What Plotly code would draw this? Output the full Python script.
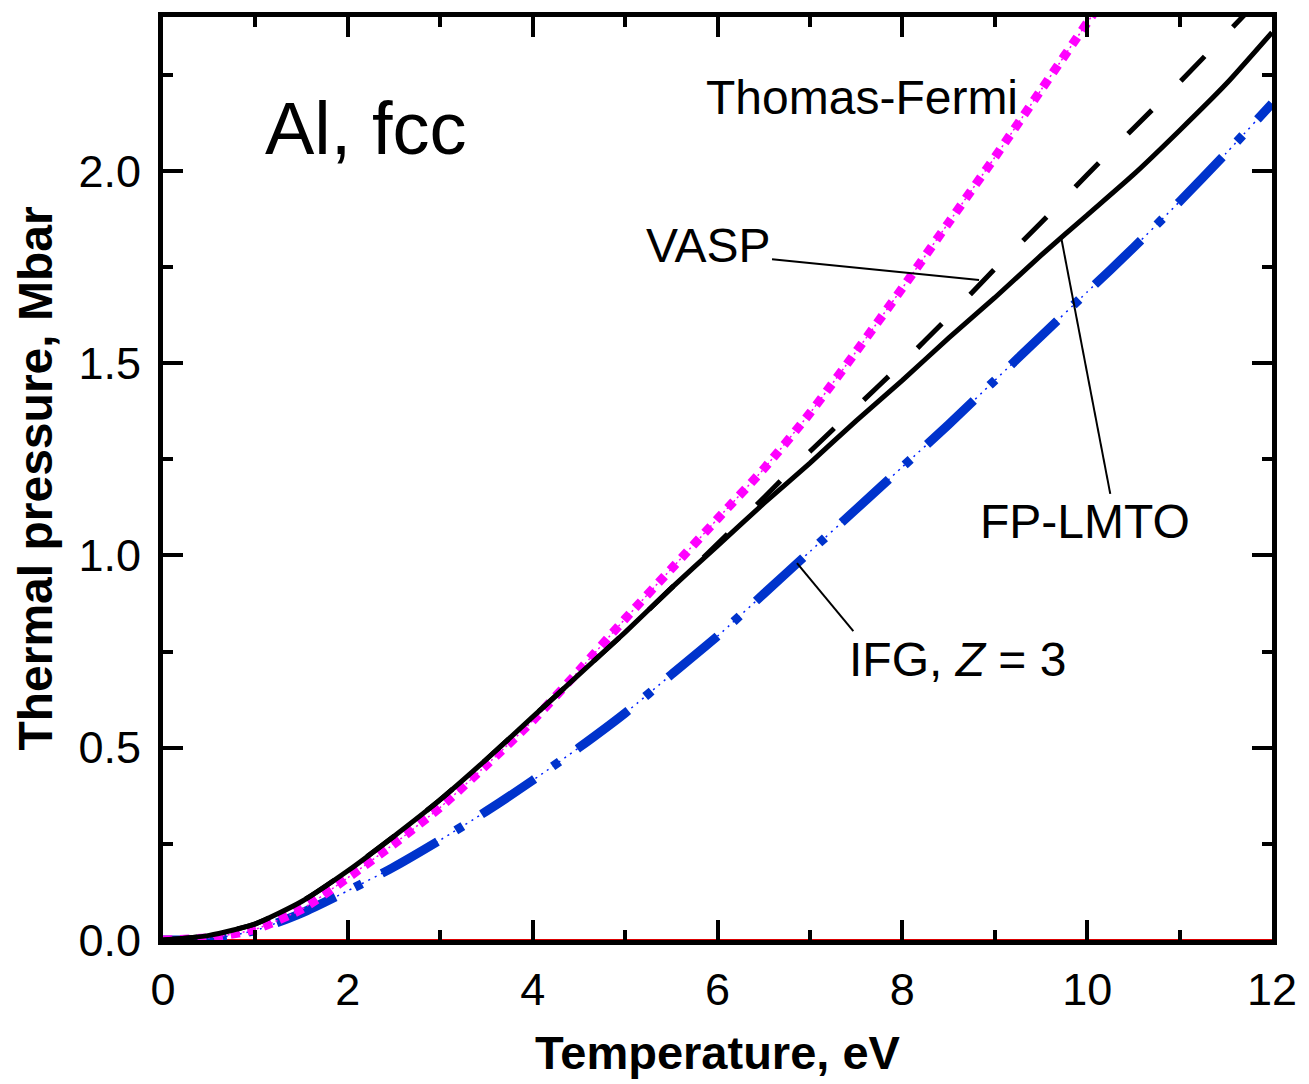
import plotly.graph_objects as go

# Temperature grid (eV)
T = [0, 0.5, 1, 1.5, 2, 2.5, 3, 3.5, 4, 4.5, 5, 5.5, 6, 6.5, 7, 7.5, 8, 8.5, 9, 9.5, 10, 10.5, 11, 11.5, 12]

# Thermal pressure (Mbar)
fp_lmto = [0, 0.012, 0.042, 0.10, 0.18, 0.27, 0.365, 0.47, 0.58, 0.69, 0.80, 0.915, 1.025, 1.135, 1.24, 1.35,
           1.455, 1.565, 1.67, 1.78, 1.885, 1.99, 2.105, 2.225, 2.36]
vasp = [0, 0.012, 0.042, 0.10, 0.18, 0.27, 0.365, 0.47, 0.58, 0.69, 0.80, 0.915, 1.03, 1.15, 1.27, 1.385,
        1.50, 1.62, 1.745, 1.865, 1.99, 2.11, 2.23, 2.355, 2.48]
thomas_fermi = [0, 0.006, 0.028, 0.08, 0.162, 0.25, 0.345, 0.455, 0.57, 0.70, 0.835, 0.965, 1.095, 1.225, 1.37,
                1.53, 1.695, 1.865, 2.035, 2.21, 2.385, 2.56, 2.74, 2.92, 3.10]
ifg = [0, 0.002, 0.025, 0.07, 0.128, 0.19, 0.26, 0.335, 0.415, 0.50, 0.59, 0.69, 0.79, 0.90, 1.01, 1.12,
       1.23, 1.34, 1.455, 1.57, 1.685, 1.80, 1.92, 2.045, 2.175]

zero_x = [0, 12]
zero_y = [0, 0]

# Labels (text, T, P, size)
labels = [
    ("Al, fcc", 2.19, 2.11, 74),
    ("Thomas-Fermi", 7.56, 2.19, 48),
    ("VASP", 5.9, 1.806, 48),
    ("FP-LMTO", 9.98, 1.089, 48),
    ("IFG, <i>Z</i> = 3", 8.6, 0.73, 48),
]
# Leader lines (T0, P0, T1, P1)
leaders = [
    (6.59, 1.77, 8.83, 1.716),
    (9.72, 1.825, 10.25, 1.16),
    (6.86, 0.98, 7.47, 0.803),
]

FONT = "Liberation Sans, Arial, sans-serif"

fig = go.Figure()

fig.add_trace(go.Scatter(x=zero_x, y=zero_y, mode="lines", line=dict(color="#dd0000", width=2),
                         showlegend=False, hoverinfo="skip"))
# IFG: thin dotted under-layer + thick dash-dot-dot
fig.add_trace(go.Scatter(x=T, y=ifg, mode="lines",
                         line=dict(color="#0022ff", width=1.5, dash="2px,5px", shape="spline", smoothing=0.6),
                         showlegend=False))
fig.add_trace(go.Scatter(x=T, y=ifg, mode="lines",
                         line=dict(color="#0033cc", width=9, dash="64px,22px,8px,22px", shape="spline", smoothing=0.6),
                         showlegend=False))
# Thomas-Fermi
fig.add_trace(go.Scatter(x=T, y=thomas_fermi, mode="lines",
                         line=dict(color="#ff00ff", width=1.5, dash="2px,3px", shape="spline", smoothing=0.6),
                         showlegend=False))
fig.add_trace(go.Scatter(x=T, y=thomas_fermi, mode="lines",
                         line=dict(color="#ff00ff", width=9, dash="9px,8px", shape="spline", smoothing=0.6),
                         showlegend=False))
# VASP dashed
fig.add_trace(go.Scatter(x=T, y=vasp, mode="lines",
                         line=dict(color="black", width=5, dash="34px,41px", shape="spline", smoothing=0.6),
                         showlegend=False))
# FP-LMTO solid
fig.add_trace(go.Scatter(x=T, y=fp_lmto, mode="lines",
                         line=dict(color="black", width=5, shape="spline", smoothing=0.6),
                         showlegend=False))

for (x0, y0, x1, y1) in leaders:
    fig.add_shape(type="line", x0=x0, y0=y0, x1=x1, y1=y1, xref="x", yref="y",
                  line=dict(color="black", width=2))

for (txt, x, y, sz) in labels:
    fig.add_annotation(text=txt, x=x, y=y, xref="x", yref="y", showarrow=False,
                       font=dict(family=FONT, size=sz, color="black"))

axis_common = dict(showline=True, linewidth=5, linecolor="black", mirror="allticks",
                   ticks="inside", tickwidth=4, ticklen=20, tickcolor="black",
                   showgrid=False, zeroline=False,
                   tickfont=dict(family=FONT, size=45, color="black"))

fig.update_xaxes(range=[0, 12], dtick=2, tick0=0,
                 minor=dict(dtick=1, ticks="inside", ticklen=10, tickwidth=4, tickcolor="black"),
                 title=dict(text="<b>Temperature, eV</b>", font=dict(family=FONT, size=47, color="black"),
                            standoff=24),
                 ticklabelstandoff=6, **axis_common)
fig.update_yaxes(range=[0, 2.4], dtick=0.5, tick0=0, tickformat=".1f",
                 minor=dict(dtick=0.25, ticks="inside", ticklen=10, tickwidth=4, tickcolor="black"),
                 title=dict(text="<b>Thermal pressure, Mbar</b>", font=dict(family=FONT, size=48, color="black"),
                            standoff=12),
                 ticklabelstandoff=8, **axis_common)

fig.update_layout(width=1309, height=1084, margin=dict(l=163, r=31, t=14, b=141),
                  plot_bgcolor="white", paper_bgcolor="white", showlegend=False)

fig.write_html("out.html")
